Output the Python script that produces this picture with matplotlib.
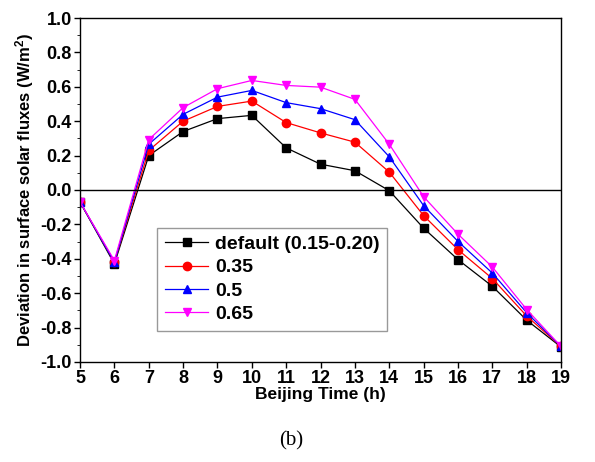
import matplotlib
matplotlib.use('Agg')
import matplotlib.pyplot as plt
from matplotlib.ticker import MultipleLocator

plt.rcParams['font.family'] = ['Liberation Sans', 'DejaVu Sans']
plt.rcParams['font.weight'] = 'bold'
plt.rcParams['mathtext.fontset'] = 'custom'
plt.rcParams['mathtext.rm'] = 'Liberation Sans:bold'
plt.rcParams['mathtext.default'] = 'regular'

hours = list(range(5, 20))
default = [-0.07, -0.43, 0.20, 0.34, 0.415, 0.434, 0.245, 0.15, 0.112, -0.004,
           -0.222, -0.405, -0.56, -0.757, -0.913]
a035 = [-0.07, -0.42, 0.23, 0.40, 0.486, 0.517, 0.392, 0.332, 0.278, 0.104,
        -0.149, -0.347, -0.515, -0.733, -0.91]
a05 = [-0.07, -0.42, 0.266, 0.44, 0.54, 0.579, 0.508, 0.473, 0.409, 0.193,
       -0.091, -0.299, -0.483, -0.714, -0.91]
a065 = [-0.07, -0.41, 0.293, 0.479, 0.589, 0.637, 0.608, 0.598, 0.527, 0.266,
        -0.039, -0.257, -0.448, -0.695, -0.91]
labels = ['default (0.15-0.20)', '0.35', '0.5', '0.65']

fig = plt.figure(figsize=(5.95, 4.62), dpi=100)
ax = fig.add_axes([0.1345, 0.2165, 0.8085, 0.7445])

series = [default, a035, a05, a065]
colors = ['black', 'red', 'blue', 'magenta']
markers = ['s', 'o', '^', 'v']
for ys, c, m, lab in zip(series, colors, markers, labels):
    ax.plot(hours, ys, color=c, marker=m, markersize=6, lw=0.9, label=lab)

ax.axhline(0, color='black', lw=1.0)

ax.set_xlim(5, 19)
ax.set_ylim(-1.0, 1.0)
ax.set_xticks(hours)
ax.yaxis.set_major_locator(MultipleLocator(0.2))
ax.yaxis.set_minor_locator(MultipleLocator(0.1))
ax.yaxis.set_major_formatter(plt.FormatStrFormatter('%.1f'))
ax.tick_params(axis='both', which='major', direction='out', length=4,
               labelsize=13, width=1, pad=2)
ax.tick_params(axis='y', which='minor', direction='out', length=2)
for s in ax.spines.values():
    s.set_linewidth(1.0)

ax.set_xlabel('Beijing Time (h)', fontsize=12.5, fontweight='bold', labelpad=0)
ax.set_ylabel('Deviation in surface solar fluxes (W/m$^2$)', fontsize=12,
              fontweight='bold', labelpad=3)

leg = ax.legend(loc='lower left', bbox_to_anchor=(0.161, 0.09), fontsize=14,
                frameon=True, fancybox=False, edgecolor='gray',
                handlelength=2.2, labelspacing=0.3, borderpad=0.4,
                handletextpad=0.35, borderaxespad=0)
leg.get_frame().set_linewidth(1.0)

fig.text(0.49, 0.045, '(b)', family='Liberation Serif', fontweight='normal',
         fontsize=15, ha='center', va='center')

fig.savefig('out.png', dpi=100)
